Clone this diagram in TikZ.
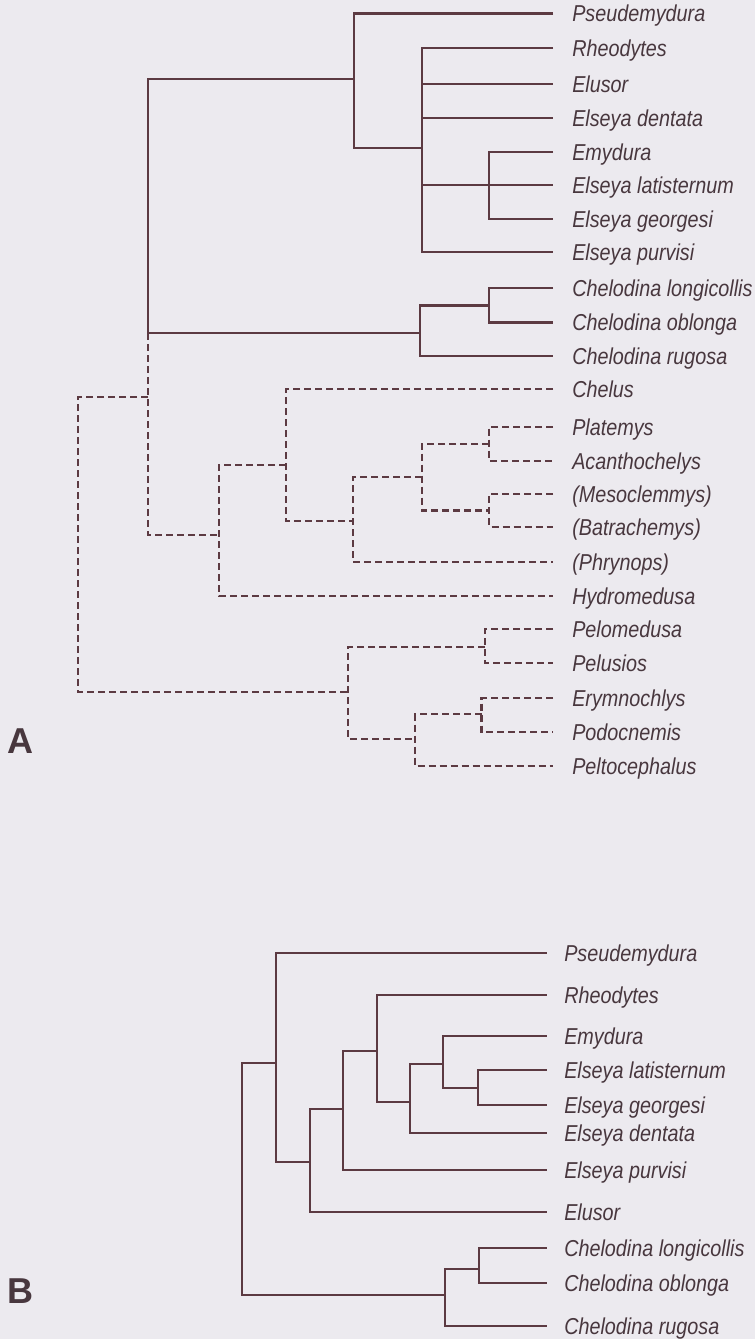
\documentclass[tikz,border=0pt]{standalone}
\usepackage{fontspec}
\setmainfont{Liberation Sans}
\newfontfamily\labfont[FakeStretch=0.86]{Liberation Sans}
\definecolor{bgc}{RGB}{236,234,239}
\definecolor{linec}{RGB}{92,58,66}
\definecolor{textc}{RGB}{72,55,62}
\newcommand{\leafA}[3]{\coordinate (#1) at (553,#2); \node[lab] (#1t) at (572,{#2+8.3}) {#3};}
\newcommand{\leafB}[3]{\coordinate (#1) at (546.5,#2); \node[lab] (#1t) at (564,{#2+8.3}) {#3};}
\begin{document}
\begin{tikzpicture}[x=0.75pt,y=-0.75pt,
  br/.style={draw=linec, line width=1.6pt},
  dsh/.style={br, dash pattern=on 5.25pt off 3pt},
  lab/.style={anchor=base west, inner sep=0pt, text=textc, font=\labfont\itshape\fontsize{17.25}{20}\selectfont},
  panel/.style={anchor=base west, inner sep=0pt, text=textc, font=\bfseries\fontsize{27}{30}\selectfont}]
\fill[bgc] (0,0) rectangle (755,1339);
\useasboundingbox (0,0) rectangle (755,1339);

% ---------- Tree A leaves ----------
\leafA{aPseu}{13.5}{Pseudemydura}
\leafA{aRheo}{47.7}{Rheodytes}
\leafA{aElus}{84}{Elusor}
\leafA{aDent}{118.3}{Elseya dentata}
\leafA{aEmyd}{151.7}{Emydura}
\leafA{aLat}{185}{Elseya latisternum}
\leafA{aGeor}{219.3}{Elseya georgesi}
\leafA{aPurv}{252}{Elseya purvisi}
\leafA{aLong}{288}{Chelodina longicollis}
\leafA{aObl}{322.5}{Chelodina oblonga}
\leafA{aRug}{356}{Chelodina rugosa}
\leafA{aChel}{389}{Chelus}
\leafA{aPlat}{426.7}{Platemys}
\leafA{aAcan}{460.7}{Acanthochelys}
\leafA{aMeso}{494.3}{(Mesoclemmys)}
\leafA{aBatr}{526.7}{(Batrachemys)}
\leafA{aPhry}{561.7}{(Phrynops)}
\leafA{aHydr}{596}{Hydromedusa}
\leafA{aPelm}{629.3}{Pelomedusa}
\leafA{aPels}{663.3}{Pelusios}
\leafA{aErym}{698}{Erymnochlys}
\leafA{aPodo}{731.7}{Podocnemis}
\leafA{aPelt}{766}{Peltocephalus}

% ---------- Tree A internal nodes ----------
\coordinate (nP) at (354,79);
\coordinate (nPoly) at (422,148.3);
\coordinate (nEmy) at (489,185);
\coordinate (n148s) at (148,200);
\coordinate (nChel) at (420,333.3);
\coordinate (nCl) at (489,305.5);
\coordinate (n148a) at (148,397);
\coordinate (nRoot) at (78,500);
\coordinate (nChelid) at (219,535);
\coordinate (n286) at (286,465);
\coordinate (n353) at (353,520.7);
\coordinate (n422) at (422,477);
\coordinate (nPA) at (489,443.7);
\coordinate (nMB) at (489,510.5);
\coordinate (nPelo) at (348,692);
\coordinate (nPP) at (485,647);
\coordinate (nPod) at (415,739);
\coordinate (nEP) at (481.5,714);

% solid branches
\draw[br] (aPseu) -| (nP) |- (nPoly);
\draw[br] (aRheo) -| (nPoly) |- (aPurv);
\draw[br] (aElus -| nPoly) -- (aElus);
\draw[br] (aDent -| nPoly) -- (aDent);
\draw[br] (aLat -| nPoly) -- (aLat);
\draw[br] (aEmyd) -| (nEmy) |- (aGeor);
\draw[br] (nP) -| (n148s) |- (nChel);
\draw[br] (nCl) -| (nChel) |- (aRug);
\draw[br] (aLong) -| (nCl) |- (aObl);

% dashed branches
\draw[dsh] (nChel -| n148s) |- (nChelid);
\draw[dsh] (n148a) -| (nRoot) |- (nPelo);
\draw[dsh] (n286) -| (nChelid) |- (aHydr);
\draw[dsh] (aChel) -| (n286) |- (n353);
\draw[dsh] (n422) -| (n353) |- (aPhry);
\draw[dsh] (nPA) -| (n422) |- (nMB);
\draw[dsh] (aPlat) -| (nPA) |- (aAcan);
\draw[dsh] (aMeso) -| (nMB) |- (aBatr);
\draw[dsh] (nPP) -| (nPelo) |- (nPod);
\draw[dsh] (aPelm) -| (nPP) |- (aPels);
\draw[dsh] (nEP) -| (nPod) |- (aPelt);
\draw[dsh] (aErym) -| (nEP) |- (aPodo);

\node[panel] (lblA) at (7,753) {A};

% ---------- Tree B leaves ----------
\leafB{bPseu}{953.3}{Pseudemydura}
\leafB{bRheo}{995}{Rheodytes}
\leafB{bEmyd}{1036}{Emydura}
\leafB{bLat}{1070}{Elseya latisternum}
\leafB{bGeor}{1105}{Elseya georgesi}
\leafB{bDent}{1133.3}{Elseya dentata}
\leafB{bPurv}{1170}{Elseya purvisi}
\leafB{bElus}{1212.3}{Elusor}
\leafB{bLong}{1248.3}{Chelodina longicollis}
\leafB{bObl}{1282.7}{Chelodina oblonga}
\leafB{bRug}{1326}{Chelodina rugosa}

% ---------- Tree B internal nodes ----------
\coordinate (bRoot) at (241.7,1100);
\coordinate (b276) at (276,1062.7);
\coordinate (b310) at (309.6,1161.7);
\coordinate (b343) at (343.3,1109.3);
\coordinate (b377) at (377,1051);
\coordinate (b410) at (410,1102.3);
\coordinate (b443) at (443,1064.3);
\coordinate (b478) at (477.6,1087.7);
\coordinate (bChel) at (445.4,1295);
\coordinate (b479) at (479,1269.3);

\draw[br] (b276) -| (bRoot) |- (bChel);
\draw[br] (bPseu) -| (b276) |- (b310);
\draw[br] (b343) -| (b310) |- (bElus);
\draw[br] (b377) -| (b343) |- (bPurv);
\draw[br] (bRheo) -| (b377) |- (b410);
\draw[br] (b443) -| (b410) |- (bDent);
\draw[br] (bEmyd) -| (b443) |- (b478);
\draw[br] (bLat) -| (b478) |- (bGeor);
\draw[br] (b479) -| (bChel) |- (bRug);
\draw[br] (bLong) -| (b479) |- (bObl);

\node[panel] (lblB) at (7,1303) {B};
\end{tikzpicture}
\end{document}
